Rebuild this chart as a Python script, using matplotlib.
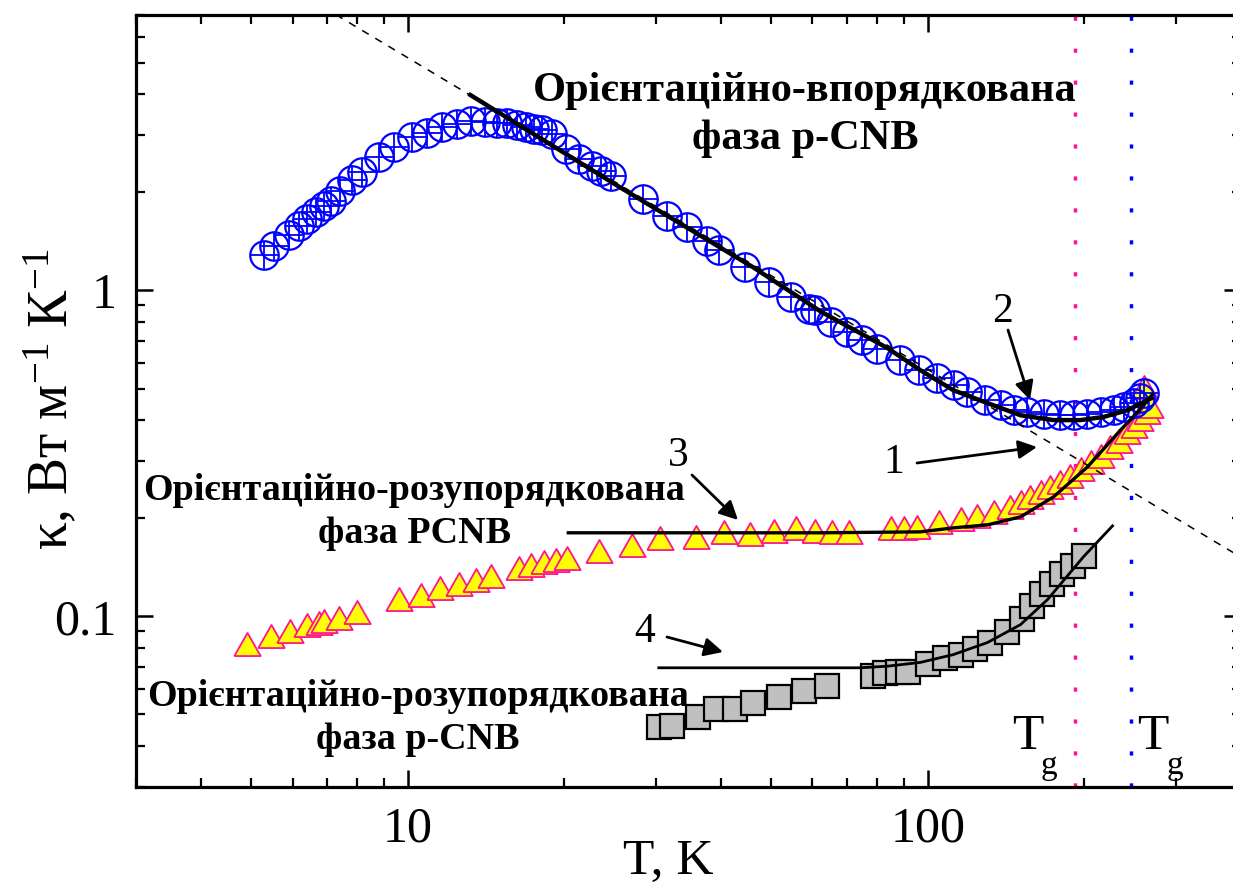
import matplotlib
matplotlib.use("Agg")
import matplotlib.pyplot as plt
from matplotlib.ticker import FixedLocator, FixedFormatter, NullFormatter

plt.rcParams['font.family'] = ['Liberation Serif', 'DejaVu Serif']
plt.rcParams['mathtext.fontset'] = 'custom'
plt.rcParams['mathtext.rm'] = 'Liberation Serif'
plt.rcParams['mathtext.it'] = 'Liberation Serif:italic'

# ---- ordered phase p-CNB (open circles with cross) ----
T_ord = [5.29, 5.53, 5.91, 6.17, 6.41, 6.65, 6.89, 7.10, 7.42, 7.82, 8.17, 8.80,
         9.40, 10.2, 10.9, 11.65, 12.45, 13.2, 14.1, 14.86, 15.53, 16.23, 16.84,
         17.47, 18.13, 18.95, 20.11, 21.33, 22.62, 23.48, 24.54, 28.36, 31.54,
         34.45, 37.64, 39.64, 44.6, 49.46, 54.45, 59.05, 60.8, 65.0, 69.98, 74.78,
         79.93, 88.6, 96.1, 104.3, 112.2, 119.1, 129.1, 138.0, 146.4, 155.3, 167.2,
         180.0, 190.9, 202.5, 214.9, 227.9, 238.2, 249.0, 256.5, 261.1]
k_ord = [1.280, 1.364, 1.484, 1.581, 1.658, 1.737, 1.820, 1.886, 2.023, 2.183, 2.302,
         2.559, 2.746, 2.946, 3.051, 3.162, 3.252, 3.314, 3.298, 3.274, 3.261, 3.222,
         3.177, 3.126, 3.104, 3.030, 2.715, 2.530, 2.413, 2.330, 2.249, 1.909, 1.696,
         1.563, 1.422, 1.332, 1.178, 1.060, 0.954, 0.879, 0.869, 0.800, 0.745, 0.703,
         0.663, 0.610, 0.569, 0.537, 0.512, 0.488, 0.461, 0.445, 0.429, 0.423, 0.417,
         0.414, 0.414, 0.417, 0.423, 0.429, 0.438, 0.451, 0.467, 0.484]

# ---- orientationally disordered phase PCNB (triangles) ----
T_pcnb = [4.895, 5.462, 5.932, 6.405, 6.742, 6.894, 7.365, 7.993, 9.61, 10.58, 11.52,
          12.53, 13.5, 14.42, 16.35, 17.22, 18.26, 19.23, 20.25, 23.3, 27.0, 30.6,
          35.75, 40.64, 45.6, 50.57, 55.67, 60.64, 65.5, 70.4, 84.8, 89.9, 95.4,
          105.0, 115.6, 124.5, 134.0, 144.2, 150.8, 157.6, 164.8, 172.2, 180.0,
          188.1, 196.7, 205.6, 214.9, 224.6, 233.0, 241.8, 249.0, 256.5, 264.2,
          268.1, 260.3]
k_pcnb = [0.0819, 0.0862, 0.0893, 0.0932, 0.0950, 0.0959, 0.0982, 0.1024, 0.1119,
          0.1157, 0.1213, 0.125, 0.1286, 0.132, 0.1397, 0.1422, 0.1457, 0.1474,
          0.1499, 0.1574, 0.1646, 0.1729, 0.1745, 0.180, 0.1778, 0.182, 0.185,
          0.182, 0.1807, 0.180, 0.1856, 0.1856, 0.1869, 0.1931, 0.1977, 0.2023,
          0.2072, 0.2147, 0.2224, 0.2303, 0.2385, 0.2472, 0.256, 0.2683, 0.2812,
          0.2948, 0.3089, 0.3278, 0.3433, 0.3642, 0.3815, 0.3999, 0.4195, 0.4393,
          0.501]

# ---- orientationally disordered phase p-CNB (squares) ----
T_dis = [30.35, 32.28, 36.07, 39.06, 42.67, 46.02, 51.63, 57.68, 63.86, 78.3, 82.9,
         87.8, 91.8, 99.9, 108.1, 115.6, 123.5, 132.0, 142.3, 151.5, 159.0, 166.2,
         173.7, 181.6, 190.6, 200.1]
k_dis = [0.0456, 0.0460, 0.0490, 0.0518, 0.0518, 0.0541, 0.0564, 0.0588, 0.0609,
         0.0654, 0.0668, 0.0673, 0.0677, 0.0712, 0.0747, 0.0763, 0.0791, 0.0831,
         0.0898, 0.0984, 0.1078, 0.1173, 0.1259, 0.1351, 0.1429, 0.1534]

# ---- model curves ----
T_fit1 = [2.9, 420.0]                      # 1: power law ~ T^-0.96 (dashed)
k_fit1 = [16.9, 0.145]
T_fit2 = [13.08, 25.65, 46.2, 62.2, 83.7, 96.8, 112.0, 130.3, 150.8, 174.5, 196.7,
          217.7, 242.2, 271.8]
k_fit2 = [4.01, 2.067, 1.176, 0.862, 0.665, 0.569, 0.494, 0.451, 0.414, 0.400, 0.400,
          0.409, 0.429, 0.471]
T_fit3 = [20.2, 62.2, 96.8, 112.0, 130.3, 150.8, 174.5, 202.8, 234.8, 253.1, 271.8]
k_fit3 = [0.1804, 0.1804, 0.1816, 0.1868, 0.1908, 0.2019, 0.2325, 0.2872, 0.3727,
          0.423, 0.484]
T_fit4 = [30.2, 74.2, 83.7, 96.8, 112.0, 130.3, 150.8, 169.9, 199.3, 227.6]
k_fit4 = [0.0695, 0.0695, 0.0703, 0.0722, 0.0763, 0.0831, 0.0943, 0.1125, 0.1523,
          0.1908]

# glass transition temperatures
Tg_pcnb = 192.0
Tg_cnb = 246.0

W, H = 1233, 889
fig = plt.figure(figsize=(W / 100, H / 100), dpi=100)
ax = fig.add_axes([136 / W, 1 - 786.7 / H, (1240.8 - 136) / W, (786.7 - 15) / H])
ax.set_xscale('log')
ax.set_yscale('log')
ax.set_xlim(3, 400)
ax.set_ylim(0.03, 7)

pink = '#ff1493'
blue = '#0000ff'

ax.axvline(Tg_pcnb, color=pink, lw=2.5, ls=(0, (1.2, 8)), zorder=1)
ax.axvline(Tg_cnb, color=blue, lw=2.5, ls=(0, (1.2, 8)), zorder=1)

# equilateral-looking triangle marker
tri = [(-1.0, -0.8), (1.0, -0.8), (0.0, 0.95), (-1.0, -0.8)]

ax.plot(T_pcnb, k_pcnb, ls='none', marker=tri, ms=19, mfc='#ffff00', mec=pink,
        mew=1.3, zorder=3)
ax.plot(T_ord, k_ord, ls='none', marker='o', ms=20.5, mfc='none', mec=blue,
        mew=1.6, zorder=4)
ax.plot(T_ord, k_ord, ls='none', marker='+', ms=20.5, mec=blue, mew=1.3, zorder=4)
ax.plot(T_dis, k_dis, ls='none', marker='s', ms=17, mfc='#c0c0c0', mec='black',
        mew=1.6, zorder=3)

ax.plot(T_fit1, k_fit1, color='black', lw=1.1, ls=(0, (5, 5)), zorder=5)
ax.plot(T_fit2, k_fit2, color='black', lw=3.2, zorder=6, solid_capstyle='butt')
ax.plot(T_fit3, k_fit3, color='black', lw=2.4, zorder=6, solid_capstyle='butt')
ax.plot(T_fit4, k_fit4, color='black', lw=2.0, zorder=6, solid_capstyle='butt')

# axes styling
for s in ax.spines.values():
    s.set_linewidth(2.3)
ax.tick_params(which='both', direction='in', top=True, right=True)
ax.tick_params(which='major', length=12.5, width=1.8, labelsize=36, pad=14)
ax.tick_params(which='minor', length=6.5, width=1.6)
ax.xaxis.set_major_locator(FixedLocator([10, 100]))
ax.xaxis.set_major_formatter(FixedFormatter(['10', '100']))
ax.xaxis.set_minor_locator(FixedLocator([3, 4, 5, 6, 7, 8, 9, 20, 30, 40, 50, 60,
                                         70, 80, 90, 200, 300]))
ax.xaxis.set_minor_formatter(NullFormatter())
ax.yaxis.set_major_locator(FixedLocator([0.1, 1]))
ax.yaxis.set_major_formatter(FixedFormatter(['0.1', '1']))
ax.yaxis.set_minor_locator(FixedLocator([0.03, 0.04, 0.05, 0.06, 0.07, 0.08, 0.09,
                                         0.2, 0.3, 0.4, 0.5, 0.6, 0.7, 0.8, 0.9,
                                         2, 3, 4, 5, 6, 7]))
ax.yaxis.set_minor_formatter(NullFormatter())


def fxy(px, py):
    return px / W, 1 - py / H


fig.text(*fxy(668, 862), 'T, K', fontsize=37, ha='center', va='center')
fig.text(*fxy(52, 399), r'κ, Вт м$^{-1}$ К$^{-1}$', fontsize=40, rotation=90,
         ha='center', va='center')

bold = dict(fontweight='bold', ha='center', va='center', linespacing=1.3)
fig.text(*fxy(805, 115), 'Орієнтаційно-впорядкована\nфаза p-CNB', fontsize=30.5,
         **bold)
fig.text(*fxy(414, 512), 'Орієнтаційно-розупорядкована\nфаза PCNB', fontsize=27.4,
         **bold)
fig.text(*fxy(418, 718), 'Орієнтаційно-розупорядкована\nфаза p-CNB', fontsize=27.4,
         **bold)

num = dict(fontsize=30, ha='center', va='center')
arrow = dict(arrowstyle='-|>', color='black', lw=2, mutation_scale=28,
             shrinkA=0, shrinkB=0)
for lab, tp, tail, tip in [('2', (1002, 312), (1008, 330), (1030, 400)),
                           ('1', (894, 463), (917, 463), (1037, 447)),
                           ('3', (678, 456), (692, 475), (738, 520)),
                           ('4', (645, 632), (667, 637), (723, 652))]:
    fig.text(*fxy(*tp), lab, **num)
    ax.annotate('', xy=fxy(*tip), xytext=fxy(*tail), xycoords='figure fraction',
                textcoords='figure fraction', arrowprops=arrow)

# T_g labels
for tx, gx in [(1028, 1049), (1153, 1175)]:
    fig.text(*fxy(tx, 737), 'T', fontsize=37, ha='center', va='center')
    fig.text(*fxy(gx, 766), 'g', fontsize=24, ha='center', va='center')

fig.savefig('out.png', dpi=100)
